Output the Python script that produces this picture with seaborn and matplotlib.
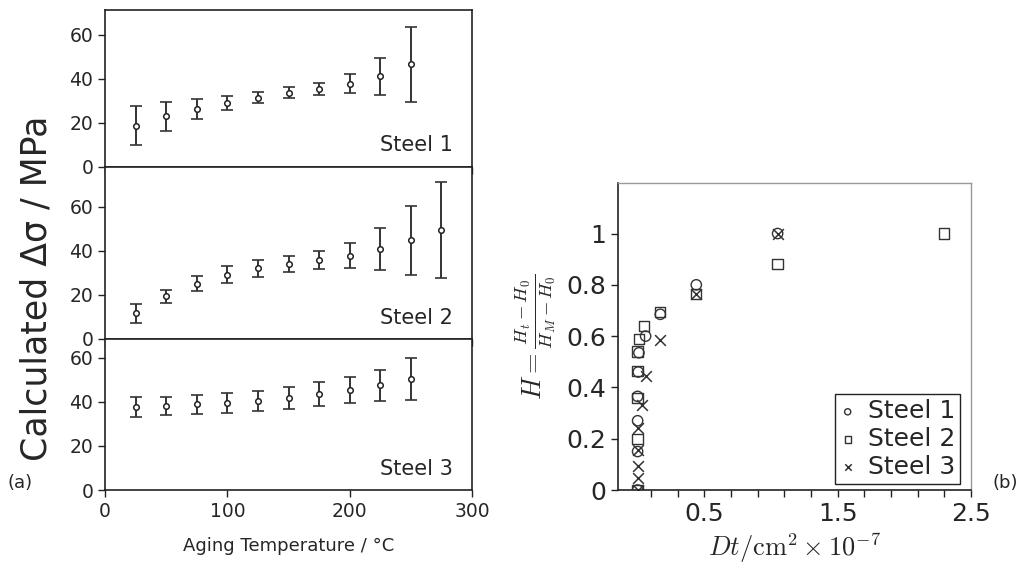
import numpy as np
import matplotlib
matplotlib.use("Agg")
import matplotlib.pyplot as plt
import seaborn as sns

# ---- data: panel (a), calculated stress vs aging temperature ----
temp = [25, 50, 75, 100, 125, 150, 175, 200, 225, 250, 275]

steel1_mean = [18.8, 23.0, 26.2, 29.0, 31.5, 33.6, 35.5, 37.8, 41.1, 46.6]
steel1_err = [9.0, 6.5, 4.5, 3.3, 2.7, 2.5, 2.7, 4.2, 8.3, 16.9]

steel2_mean = [11.6, 19.3, 25.1, 29.2, 32.0, 34.0, 35.8, 37.8, 40.8, 44.7, 49.4]
steel2_err = [4.2, 2.8, 3.5, 3.9, 3.7, 3.5, 3.9, 5.6, 9.6, 15.8, 21.6]

steel3_mean = [37.5, 38.1, 38.9, 39.6, 40.5, 41.7, 43.4, 45.2, 47.5, 50.3]
steel3_err = [4.5, 4.3, 4.2, 4.5, 4.5, 4.9, 5.4, 5.9, 7.1, 9.4]

# ---- data: panel (b), H vs Dt ----
s1_x = [0, 0, 0, 0, 0.005, 0.01, 0.06, 0.17, 0.44, 1.05]
s1_y = [0, 0.15, 0.27, 0.365, 0.46, 0.535, 0.60, 0.685, 0.80, 1.0]
s2_x = [0, 0, 0, 0, 0, 0.01, 0.05, 0.17, 0.44, 1.05, 2.30]
s2_y = [0, 0.20, 0.36, 0.465, 0.54, 0.59, 0.64, 0.695, 0.765, 0.88, 1.0]
s3_x = [0, 0, 0, 0, 0, 0.03, 0.06, 0.17, 0.44, 1.05]
s3_y = [0, 0.045, 0.095, 0.155, 0.24, 0.33, 0.445, 0.585, 0.765, 1.0]

sns.set_style("ticks")
plt.rcParams['font.family'] = ['DejaVu Sans']
plt.rcParams['mathtext.fontset'] = 'cm'

W, H = 1021, 572
fig = plt.figure(figsize=(W / 100, H / 100), dpi=100)


def px_axes(left, top, right, bottom):
    return fig.add_axes([left / W, 1 - bottom / H, (right - left) / W, (bottom - top) / H])


# left stacked panels
panels = [
    (steel1_mean, steel1_err, "Steel 1", (10, 167), 71.2),
    (steel2_mean, steel2_err, "Steel 2", (167, 339), 78.0),
    (steel3_mean, steel3_err, "Steel 3", (339, 490), 68.5),
]
for i, (mean, err, name, (top, bot), ymax) in enumerate(panels):
    ax = px_axes(105, top, 472, bot)
    x = temp[:len(mean)]
    ax.errorbar(x, mean, yerr=err, fmt='none', ecolor='#333333', elinewidth=1.4,
                capsize=4, capthick=1.2, zorder=2)
    sns.scatterplot(x=x, y=mean, ax=ax, marker='o', s=16, facecolor='white',
                    edgecolor='#222222', linewidth=1.1, zorder=3)
    ax.set_xlim(0, 300)
    ax.set_ylim(0, ymax)
    ax.set_xticks([0, 100, 200, 300])
    ax.set_yticks([0, 20, 40, 60])
    for sp in ax.spines.values():
        sp.set_visible(True)
        sp.set_color('#222222')
        sp.set_linewidth(1.2)
    ax.tick_params(direction='out', length=5, width=1, labelsize=13.5, color='#222222')
    if i < 2:
        ax.tick_params(axis='x', labelbottom=False)
    else:
        ax.set_xlabel("Aging Temperature / °C", fontsize=13, labelpad=12)
    ax.text(0.948, 0.14 if i != 1 else 0.12, name, transform=ax.transAxes,
            ha='right', va='center', fontsize=15)

fig.text(36 / W, 1 - 288 / H, "Calculated Δσ / MPa", rotation=90, fontsize=25,
         ha='center', va='center')
fig.text(20 / W, 1 - 483 / H, "(a)", fontsize=13, ha='center', va='center')

# right panel
axb = px_axes(618, 183, 971, 490)
sns.scatterplot(x=s1_x, y=s1_y, ax=axb, marker='o', s=55, facecolor='none',
                edgecolor='#333333', linewidth=1.0, label='Steel 1')
sns.scatterplot(x=s2_x, y=s2_y, ax=axb, marker='s', s=55, facecolor='none',
                edgecolor='#333333', linewidth=1.0, label='Steel 2')
sns.scatterplot(x=s3_x, y=s3_y, ax=axb, marker='x', s=60, color='#333333',
                linewidth=1.1, label='Steel 3')
axb.set_xlim(-0.147, 2.5)
axb.set_ylim(0, 1.197)
axb.set_xticks([0.5, 1.5, 2.5])
axb.set_xticks([0.1, 0.3, 0.7, 0.9, 1.1, 1.3, 1.7, 1.9, 2.1, 2.3], minor=True)
axb.set_yticks([0, 0.2, 0.4, 0.6, 0.8, 1])
axb.set_yticklabels(["0", "0.2", "0.4", "0.6", "0.8", "1"])
axb.tick_params(which='both', direction='out', length=5, width=1, color='#222222')
axb.tick_params(labelsize=18)
for side in ['top', 'right']:
    axb.spines[side].set_visible(True)
    axb.spines[side].set_color('#999999')
    axb.spines[side].set_linewidth(1.0)
for side in ['left', 'bottom']:
    axb.spines[side].set_color('#222222')
    axb.spines[side].set_linewidth(1.2)
axb.set_xlabel(r"$Dt/\mathrm{cm}^2\times10^{-7}$", fontsize=19, labelpad=4)
axb.set_ylabel(r"$H = \frac{H_t - H_0}{H_M - H_0}$", fontsize=19, labelpad=6)
leg = axb.legend(loc='lower right', bbox_to_anchor=(0.969, 0.02), borderaxespad=0,
                 fontsize=18, frameon=True, fancybox=False, framealpha=1,
                 edgecolor='#222222', markerscale=0.6, handlelength=0.6,
                 handletextpad=0.5, labelspacing=0.15, borderpad=0.2)
leg.get_frame().set_linewidth(1.0)
fig.text(1005 / W, 1 - 483 / H, "(b)", fontsize=13, ha='center', va='center')

fig.savefig("out.png", dpi=100)
